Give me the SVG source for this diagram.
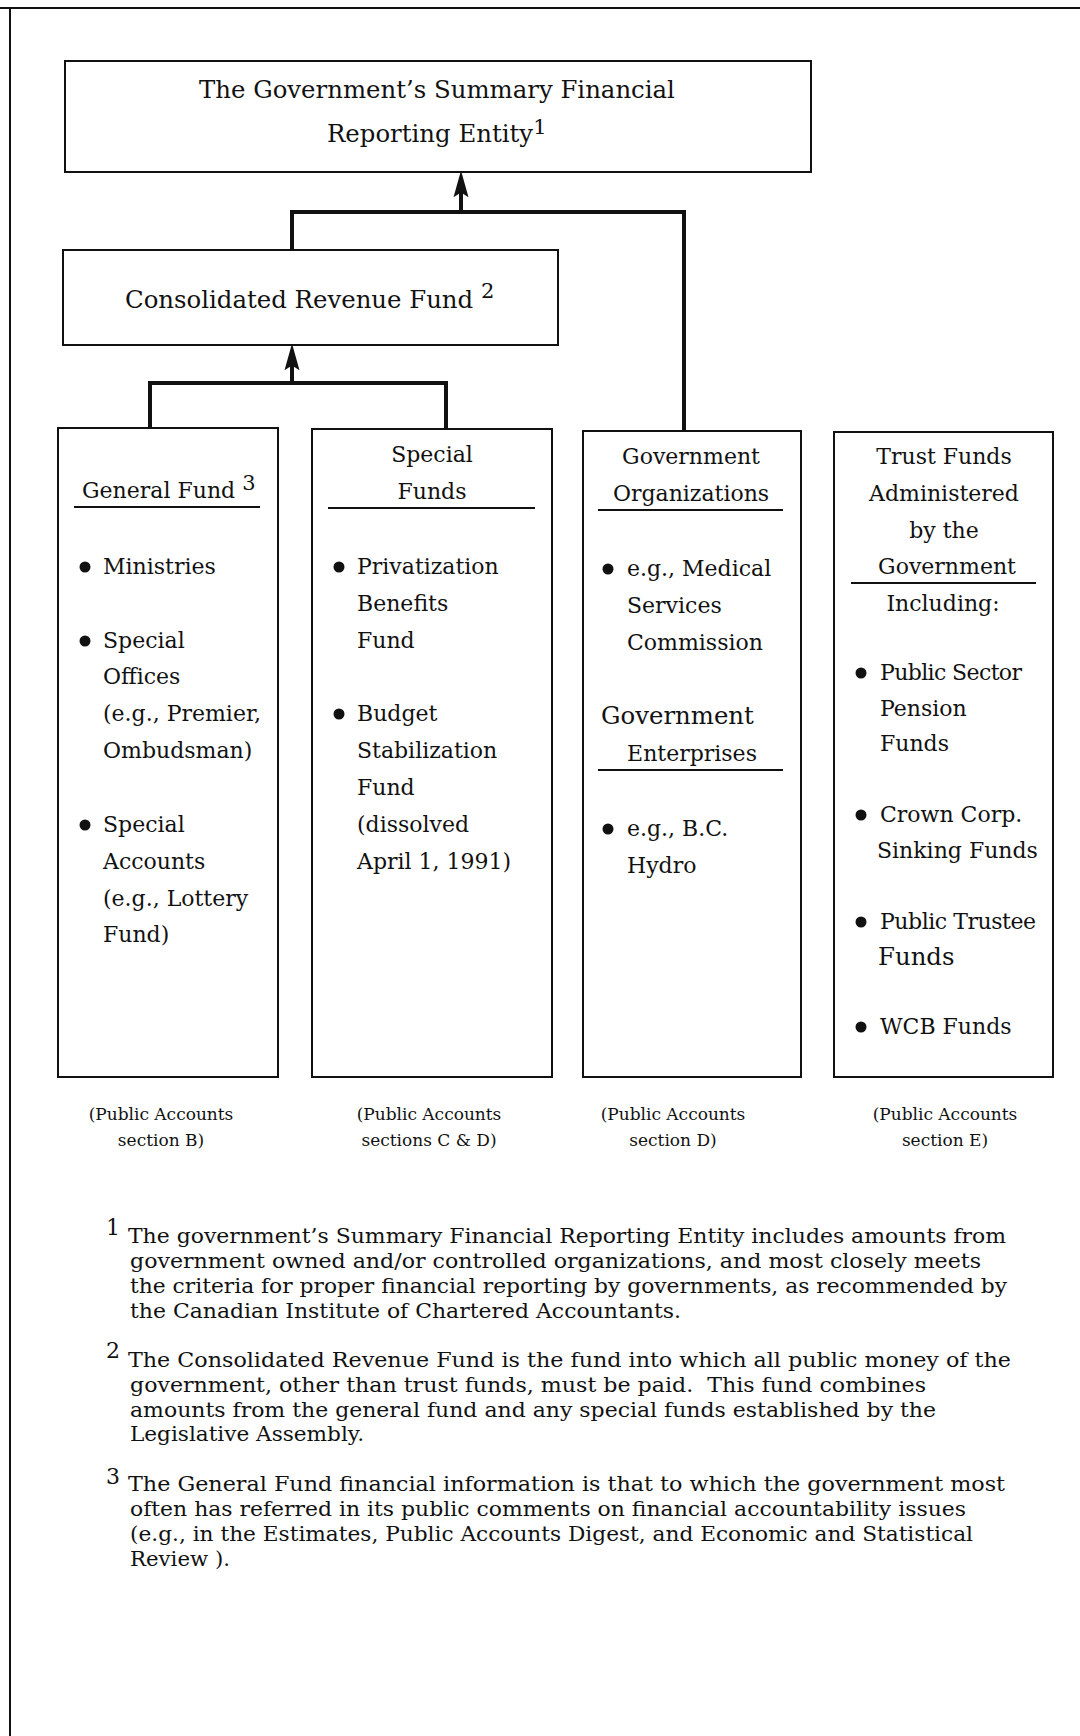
<svg xmlns="http://www.w3.org/2000/svg" width="1080" height="1736" viewBox="0 0 1080 1736">
<defs>
<style>
text{font-family:"DejaVu Serif","Liberation Serif",serif;fill:#111}
.t24{font-size:24.4px}
.t22{font-size:22px}
.lab{font-size:17px}
.fn{font-size:21px}
.sup{font-size:21px}
.fsup{font-size:22px}
.box{fill:#fff;stroke:#111;stroke-width:2}
.ul{stroke:#111;stroke-width:2}
.con{fill:none;stroke:#111;stroke-width:4}
.frame{stroke:#111;stroke-width:2}
.c{text-anchor:middle}
circle{fill:#111}
</style>
<marker id="arr" markerUnits="userSpaceOnUse" markerWidth="30" markerHeight="20" viewBox="-16 -8 26 16" refX="0" refY="0" orient="auto">
<path d="M9,0 L-14,-6.5 L-10,0 L-14,6.5 Z" fill="#111"/>
</marker>
</defs>
<rect x="0" y="0" width="1080" height="1736" fill="#fff"/>
<g id="frame">
<line class="frame" x1="0" y1="8" x2="1080" y2="8"/>
<line class="frame" x1="10" y1="8" x2="10" y2="1736"/>
</g>
<g id="connectors">
<polyline class="con" points="292,250 292,212 684,212 684,431"/>
<line class="con" x1="461" y1="212" x2="461" y2="181" marker-end="url(#arr)"/>
<polyline class="con" points="150,428 150,383 446,383 446,429"/>
<line class="con" x1="292" y1="383" x2="292" y2="354" marker-end="url(#arr)"/>
</g>
<g id="summary-entity">
<rect class="box" x="65" y="61" width="746" height="111"/>
<text class="t24" x="199" y="98">The Government’s Summary Financial</text>
<text class="t24" x="327" y="142">Reporting Entity<tspan class="sup" dy="-8">1</tspan></text>
</g>
<g id="crf">
<rect class="box" x="63" y="250" width="495" height="95"/>
<text class="t24" x="125" y="308">Consolidated Revenue Fund <tspan class="sup" dy="-10">2</tspan></text>
</g>
<g id="general-fund">
<rect class="box" x="58" y="428" width="220" height="649"/>
<text class="t22" x="82" y="498">General Fund <tspan class="sup" font-size="20" dy="-8">3</tspan></text>
<line class="ul" x1="74" y1="507" x2="260" y2="507"/>
<circle cx="85" cy="567" r="5.5"/>
<text class="t22" x="103" y="574">Ministries</text>
<circle cx="85" cy="641" r="5.5"/>
<text class="t22" x="103" y="648">Special</text>
<text class="t22" x="103" y="684">Offices</text>
<text class="t22" x="103" y="721">(e.g., Premier,</text>
<text class="t22" x="103" y="758">Ombudsman)</text>
<circle cx="85" cy="825" r="5.5"/>
<text class="t22" x="103" y="832">Special</text>
<text class="t22" x="103" y="869">Accounts</text>
<text class="t22" x="103" y="906">(e.g., Lottery</text>
<text class="t22" x="103" y="942">Fund)</text>
</g>
<g id="special-funds">
<rect class="box" x="312" y="429" width="240" height="648"/>
<text class="t22 c" x="432" y="462">Special</text>
<text class="t22 c" x="432" y="499">Funds</text>
<line class="ul" x1="328" y1="508" x2="535" y2="508"/>
<circle cx="339" cy="567" r="5.5"/>
<text class="t22" x="357" y="574">Privatization</text>
<text class="t22" x="357" y="611">Benefits</text>
<text class="t22" x="357" y="648">Fund</text>
<circle cx="339" cy="714" r="5.5"/>
<text class="t22" x="357" y="721">Budget</text>
<text class="t22" x="357" y="758">Stabilization</text>
<text class="t22" x="357" y="795">Fund</text>
<text class="t22" x="357" y="832">(dissolved</text>
<text class="t22" x="357" y="869">April 1, 1991)</text>
</g>
<g id="government-organizations">
<rect class="box" x="583" y="431" width="218" height="646"/>
<text class="t22 c" x="691" y="464">Government</text>
<text class="t22 c" x="691" y="501">Organizations</text>
<line class="ul" x1="598" y1="510" x2="783" y2="510"/>
<circle cx="608" cy="569" r="5.5"/>
<text class="t22" x="627" y="576">e.g., Medical</text>
<text class="t22" x="627" y="613">Services</text>
<text class="t22" x="627" y="650">Commission</text>
<text class="t24" x="601" y="724">Government</text>
<text class="t22 c" x="692" y="761">Enterprises</text>
<line class="ul" x1="598" y1="770" x2="783" y2="770"/>
<circle cx="608" cy="829" r="5.5"/>
<text class="t22" x="627" y="836">e.g., B.C.</text>
<text class="t22" x="627" y="873">Hydro</text>
</g>
<g id="trust-funds">
<rect class="box" x="834" y="432" width="219" height="645"/>
<text class="t22 c" x="944" y="464">Trust Funds</text>
<text class="t22 c" x="944" y="501">Administered</text>
<text class="t22 c" x="944" y="538">by the</text>
<text class="t22 c" x="947" y="574">Government</text>
<line class="ul" x1="851" y1="583" x2="1036" y2="583"/>
<text class="t22 c" x="943" y="611">Including:</text>
<circle cx="861" cy="673" r="5.5"/>
<text class="t22" x="880" y="680" textLength="142">Public Sector</text>
<text class="t22" x="880" y="716">Pension</text>
<text class="t22" x="880" y="751">Funds</text>
<circle cx="861" cy="815" r="5.5"/>
<text class="t22" x="880" y="822">Crown Corp.</text>
<text class="t22" x="877" y="858">Sinking Funds</text>
<circle cx="861" cy="922" r="5.5"/>
<text class="t22" x="880" y="929" textLength="156">Public Trustee</text>
<text class="t24" x="878" y="965">Funds</text>
<circle cx="861" cy="1027" r="5.5"/>
<text class="t22" x="880" y="1034">WCB Funds</text>
</g>
<g id="section-labels">
<text class="lab c" x="161" y="1120">(Public Accounts</text>
<text class="lab c" x="161" y="1146">section B)</text>
<text class="lab c" x="429" y="1120">(Public Accounts</text>
<text class="lab c" x="429" y="1146">sections C &amp; D)</text>
<text class="lab c" x="673" y="1120">(Public Accounts</text>
<text class="lab c" x="673" y="1146">section D)</text>
<text class="lab c" x="945" y="1120">(Public Accounts</text>
<text class="lab c" x="945" y="1146">section E)</text>
</g>
<g id="footnotes">
<text class="fsup" x="106" y="1235">1</text>
<text class="fn" x="128" y="1243" textLength="878" lengthAdjust="spacingAndGlyphs">The government’s Summary Financial Reporting Entity includes amounts from</text>
<text class="fn" x="130" y="1268" textLength="851" lengthAdjust="spacingAndGlyphs">government owned and/or controlled organizations, and most closely meets</text>
<text class="fn" x="130" y="1293" textLength="877" lengthAdjust="spacingAndGlyphs">the criteria for proper financial reporting by governments, as recommended by</text>
<text class="fn" x="130" y="1318" textLength="551" lengthAdjust="spacingAndGlyphs">the Canadian Institute of Chartered Accountants.</text>
<text class="fsup" x="106" y="1358">2</text>
<text class="fn" x="128" y="1367" textLength="883" lengthAdjust="spacingAndGlyphs">The Consolidated Revenue Fund is the fund into which all public money of the</text>
<text class="fn" x="130" y="1392" textLength="796" lengthAdjust="spacingAndGlyphs">government, other than trust funds, must be paid.&#160; This fund combines</text>
<text class="fn" x="130" y="1417" textLength="806" lengthAdjust="spacingAndGlyphs">amounts from the general fund and any special funds established by the</text>
<text class="fn" x="130" y="1441" textLength="234" lengthAdjust="spacingAndGlyphs">Legislative Assembly.</text>
<text class="fsup" x="106" y="1484">3</text>
<text class="fn" x="128" y="1491" textLength="877" lengthAdjust="spacingAndGlyphs">The General Fund financial information is that to which the government most</text>
<text class="fn" x="130" y="1516" textLength="836" lengthAdjust="spacingAndGlyphs">often has referred in its public comments on financial accountability issues</text>
<text class="fn" x="130" y="1541" textLength="843" lengthAdjust="spacingAndGlyphs">(e.g., in the Estimates, Public Accounts Digest, and Economic and Statistical</text>
<text class="fn" x="130" y="1566" textLength="100" lengthAdjust="spacingAndGlyphs">Review ).</text>
</g>
</svg>
